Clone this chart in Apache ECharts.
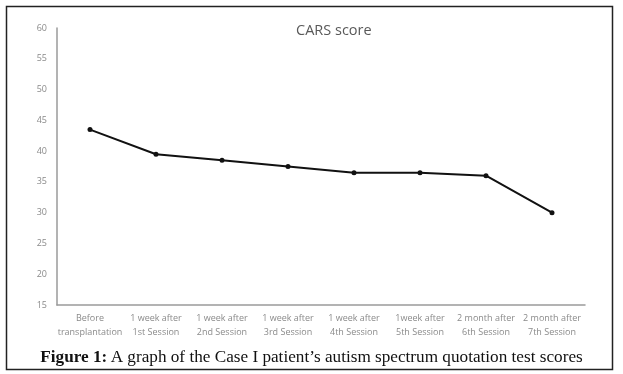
<!DOCTYPE html>
<html><head><meta charset="utf-8">
<script src="https://cdn.jsdelivr.net/npm/echarts@6/dist/echarts.min.js"></script>
<style>html,body{margin:0;padding:0;background:#fff}#c{width:623px;height:374px}</style>
</head><body><div id="c"></div>
<script>
var categories = ['Before\ntransplantation','1 week after\n1st Session','1 week after\n2nd Session','1 week after\n3rd Session','1 week after\n4th Session','1week after\n5th Session','2 month after\n6th Session','2 month after\n7th Session'];
var scores = [43.5, 39.5, 38.5, 37.5, 36.5, 36.5, 36, 30];
var yMin = 15, yMax = 60, yStep = 5;

var chart = echarts.init(document.getElementById('c'), null, {renderer:'canvas'});
chart.setOption({
  animation:false,
  title:{text:'CARS score', left:291, top:18,
    textStyle:{fontFamily:'Open Sans', fontSize:14.5, fontWeight:'normal', color:'#595959'}},
  grid:{left:57, right:38, top:28, bottom:69},
  xAxis:{type:'category', data:categories, boundaryGap:true,
    axisLine:{lineStyle:{color:'#9a9a9a', width:1.5}}, axisTick:{show:false},
    axisLabel:{color:'#8a8a8a', fontSize:9, fontFamily:'Open Sans', lineHeight:14, margin:6, interval:0}},
  yAxis:{type:'value', min:yMin, max:yMax, interval:yStep,
    axisLine:{show:true, lineStyle:{color:'#9a9a9a', width:1.5}}, axisTick:{show:false},
    splitLine:{show:false},
    axisLabel:{color:'#8a8a8a', fontSize:9, fontFamily:'Open Sans', margin:10}},
  series:[{type:'line', data:scores, symbol:'circle', symbolSize:5,
    lineStyle:{color:'#111', width:2}, itemStyle:{color:'#111'}}],
  graphic:[
    {type:'rect', shape:{x:6.5, y:6.5, width:606, height:363}, style:{fill:'none', stroke:'#222', lineWidth:1.5}, silent:true},
    {type:'text', left:'center', top:349, style:{rich:{b:{fontFamily:'Liberation Serif', fontWeight:'bold', fontSize:17.2, fill:'#111'}, n:{fontFamily:'Liberation Serif', fontSize:17.2, fill:'#111'}}, text:'{b|Figure 1:} {n|A graph of the Case I patient’s autism spectrum quotation test scores}'}}
  ]
});
</script></body></html>
